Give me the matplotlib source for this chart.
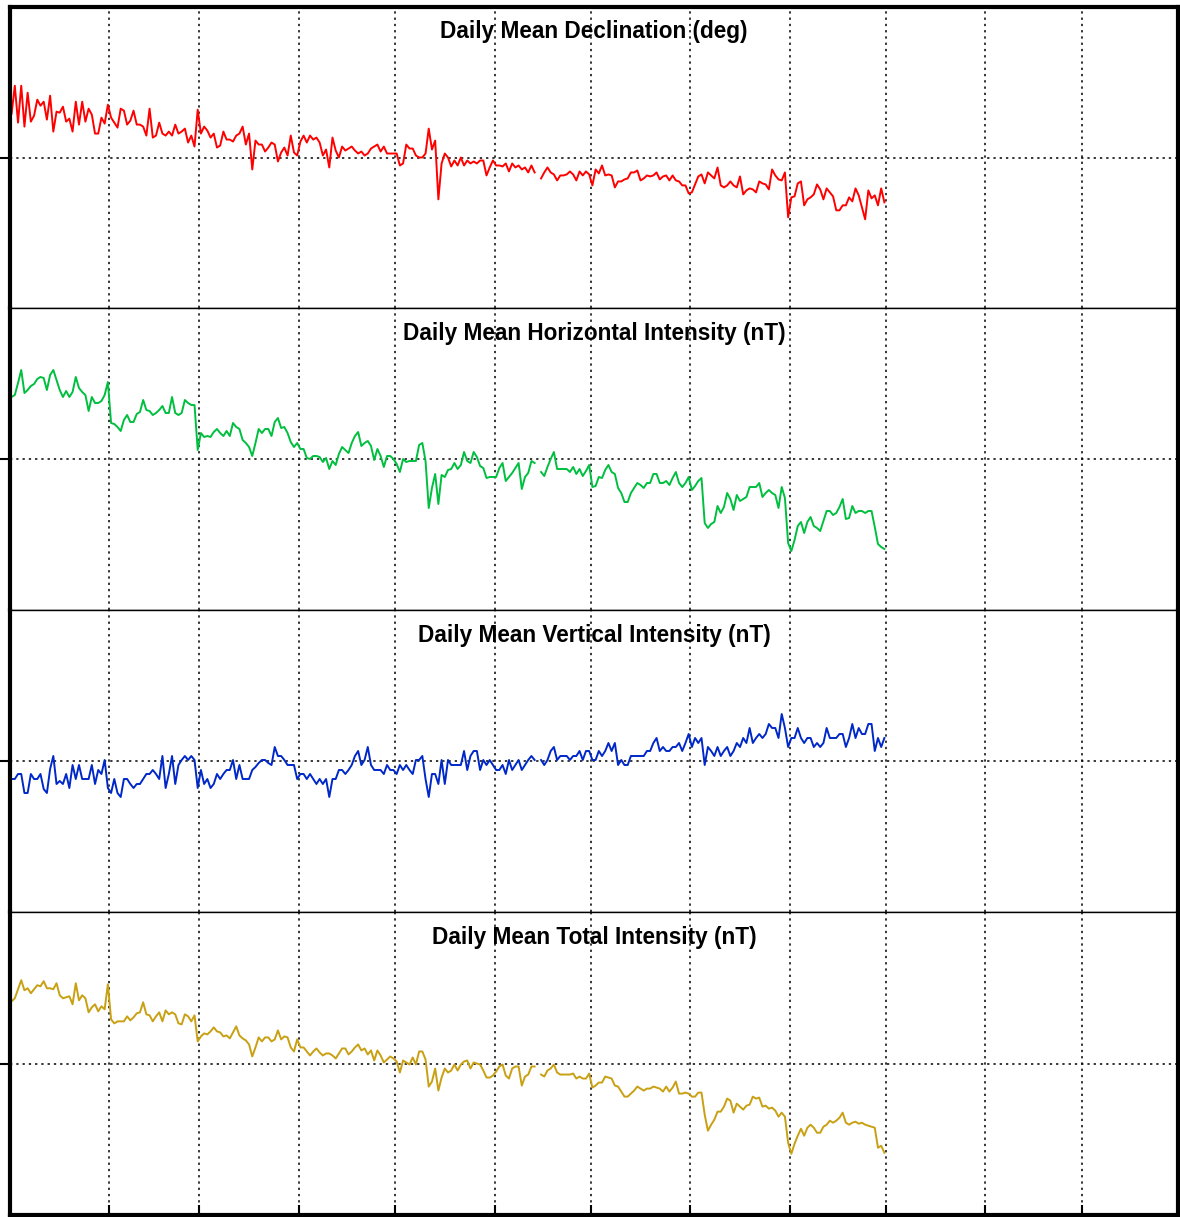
import matplotlib
matplotlib.use("Agg")
import matplotlib.pyplot as plt
import matplotlib.dates as mdates
from matplotlib import font_manager as fm
import numpy as np
import pandas as pd

# ── Daily means, 1 Jan – 30 Sep (anomaly about panel centre, day 165 missing) ──
nan = np.nan

declination = [
    44, 72, 35, 72, 31, 65, 36, 42, 58, 52,
    56, 38, 62, 26, 46, 45, 51, 36, 39, 26,
    56, 33, 56, 36, 49, 43, 24, 24, 40, 34,
    53, 40, 35, 30, 49, 47, 33, 37, 47, 33,
    33, 31, 22, 49, 20, 22, 35, 24, 22, 26,
    22, 33, 24, 26, 29, 15, 22, 11, 48, 24,
    31, 27, 20, 24, 10, 12, 26, 18, 18, 16,
    22, 24, 31, 13, 24, -12, 17, 13, 13, 6,
    10, 15, 13, -4, 5, 10, 2, 22, 5, 2,
    16, 22, 15, 22,
    18, 20, 15, 2, 8, -10, 20, 7, 0, 11,
    7, 9, 11, 7, 4, 6, 2, 4, 9, 11,
    13, 6, 11, 4, 4, 4, 4, -8, -6, 13,
    9, 9, 2, 0, 0, 4, 29, 8, 17, -42,
    -6, 4, 0, -9, -3, -8, 0, -8, -3, -6,
    -4, -6, -3, -3, -18, -10, -3, -8, -8, -9,
    -6, -14, -6, -10, -8, -12, -10, -15, -8, -15,
    nan, -21, -15, -10, -15, -17, -23, -18, -18, -17,
    -14, -17, -23, -14, -18, -14, -17, -28, -12, -16,
    -8, -18, -17, -18, -30, -24, -24, -22, -21, -15,
    -15, -13, -23, -21, -18, -19, -18, -15, -22, -19,
    -18, -23, -18, -23, -24, -28, -28, -36, -35, -27,
    -19, -17, -26, -15, -18, -21, -10, -28, -30, -28,
    -24, -28, -30, -19, -37, -33, -31, -32, -35, -24,
    -26, -27, -32, -12, -18, -22, -23, -15, -60, -40,
    -39, -26, -24, -48, -42, -40, -37, -27, -32, -42,
    -31, -35, -39, -53, -53, -48, -48, -40, -44, -31,
    -38, -50, -62, -33, -41, -38, -48, -31, -45,
]

horizontal = [
    62, 64, 76, 89, 66, 69, 73, 75, 80, 82,
    81, 69, 84, 89, 79, 69, 62, 68, 62, 67,
    82, 71, 67, 64, 48, 62, 56, 56, 58, 64,
    77, 36, 35, 32, 28, 39, 44, 37, 37, 45,
    47, 59, 49, 48, 44, 46, 49, 53, 46, 46,
    62, 46, 44, 46, 59, 56, 54, 54, 9, 26,
    22, 23, 22, 27, 30, 26, 23, 28, 23, 36,
    32, 30, 19, 16, 12, 3, 16, 30, 26, 30,
    30, 23, 37, 41, 31, 32, 26, 17, 12, 16,
    10, 10, 1, 0,
    3, 3, 2, -3, 1, -10, -2, -6, 5, 12,
    9, 6, 16, 23, 27, 13, 16, 18, 13, -1,
    10, 3, -8, 3, 3, 0, -5, -13, 0, -3,
    -2, -2, -2, 14, 16, -2, -49, -29, -15, -45,
    -16, -18, -11, -10, -4, -10, -6, 7, -2, -4,
    7, 2, -7, -9, -19, -18, -18, -18, -9, -4,
    -22, -18, -14, -9, -4, -30, -18, -14, -2, -4,
    nan, -13, -17, -8, 0, 7, -10, -10, -10, -10,
    -13, -8, -15, -10, -17, -12, -6, -28, -27, -18,
    -19, -11, -6, -13, -15, -29, -34, -43, -43, -34,
    -29, -24, -26, -29, -24, -24, -15, -15, -24, -24,
    -22, -26, -19, -13, -24, -28, -24, -18, -31, -27,
    -22, -19, -64, -69, -65, -63, -47, -54, -48, -34,
    -40, -51, -36, -42, -40, -38, -28, -28, -28, -24,
    -38, -34, -31, -34, -36, -49, -28, -39, -84, -92,
    -81, -67, -63, -74, -63, -58, -67, -69, -72, -62,
    -52, -52, -56, -54, -48, -40, -60, -59, -47, -54,
    -52, -52, -54, -52, -52, -68, -85, -88, -90,
]

vertical = [
    -18, -18, -13, -13, -32, -32, -13, -18, -18, -13,
    -28, -32, -8, 5, -23, -20, -23, -13, -27, -4,
    -18, -4, -18, -18, -18, -4, -23, -9, -13, 1,
    -27, -32, -18, -32, -36, -18, -18, -23, -27, -23,
    -23, -18, -13, -13, -9, -13, -18, 5, -27, -13,
    5, -23, -4, 1, 5, 1, 5, 1, -27, -9,
    -23, -18, -27, -23, -13, -18, -13, -9, -9, 1,
    -18, -4, -18, -18, -18, -9, -6, -2, 1, 1,
    -2, -4, 14, 5, 5, 1, -4, -4, -4, -18,
    -13, -13, -18, -13,
    -18, -23, -18, -23, -18, -36, -18, -18, -9, -9,
    -13, -9, -4, 5, 10, -4, 1, 14, -4, -9,
    -9, -9, -13, -4, -9, -9, -13, -4, -9, -4,
    -9, -13, 1, 1, 5, -18, -36, -13, -13, -23,
    1, -23, 1, -4, -4, -4, -4, 10, -9, 5,
    10, 10, -9, 1, -4, 1, -4, -9, -9, -4,
    -13, 1, -9, -4, 1, -9, -4, 1, 5, 1,
    nan, 1, -4, 1, 10, 14, 1, 5, 5, 5,
    1, 5, 5, 10, 1, 10, 10, 1, 1, 10,
    5, 10, 18, 10, 18, -4, 1, -4, -4, 5,
    5, 5, 5, 5, 10, 10, 18, 23, 10, 14,
    10, 10, 14, 14, 18, 10, 18, 27, 14, 23,
    18, 23, -4, 14, 10, 5, 14, 5, 10, 14,
    5, 10, 18, 14, 23, 18, 33, 18, 23, 27,
    23, 27, 37, 33, 33, 23, 47, 33, 14, 23,
    23, 33, 23, 18, 23, 23, 14, 18, 14, 18,
    33, 23, 23, 23, 27, 27, 14, 23, 37, 23,
    33, 27, 27, 37, 37, 10, 23, 14, 23,
]

total = [
    62, 65, 74, 83, 73, 75, 70, 74, 78, 77,
    82, 75, 75, 74, 80, 68, 65, 66, 67, 59,
    80, 63, 68, 65, 51, 56, 59, 52, 57, 54,
    79, 44, 40, 42, 42, 42, 47, 43, 46, 50,
    51, 61, 49, 48, 42, 47, 51, 42, 53, 49,
    51, 49, 40, 39, 49, 47, 42, 48, 22, 27,
    30, 29, 32, 36, 32, 31, 27, 28, 25, 31,
    37, 28, 25, 23, 19, 7, 16, 26, 22, 26,
    26, 22, 24, 33, 24, 27, 26, 16, 12, 24,
    16, 16, 12, 8,
    12, 15, 11, 8, 10, 10, 8, 5, 10, 15,
    15, 9, 12, 16, 19, 13, 15, 9, 13, 3,
    13, 8, 1, 4, 7, 5, 2, -9, 3, 1,
    -1, 6, -1, 12, 12, 4, -23, -18, -5, -27,
    -14, -5, -9, -7, -1, -7, -1, 2, 3, -5,
    1, 0, -1, -7, -14, -14, -12, -8, -3, -1,
    -12, -15, -5, -3, -3, -22, -13, -11, -3, -3,
    nan, -11, -13, -7, -5, -1, -9, -11, -11, -11,
    -11, -10, -15, -13, -15, -15, -10, -24, -22, -19,
    -19, -13, -14, -15, -22, -23, -28, -33, -33, -30,
    -27, -23, -25, -27, -25, -25, -23, -24, -25, -28,
    -23, -28, -24, -18, -30, -30, -29, -30, -33, -33,
    -29, -29, -51, -67, -61, -56, -48, -48, -43, -35,
    -37, -49, -40, -43, -46, -42, -41, -33, -35, -34,
    -43, -42, -45, -44, -47, -53, -49, -53, -79, -90,
    -80, -72, -65, -72, -64, -61, -64, -69, -69, -63,
    -61, -57, -59, -57, -54, -49, -59, -61, -59, -58,
    -60, -59, -61, -62, -63, -64, -84, -82, -89,
]

titles = [
    "Daily Mean Declination (deg)",
    "Daily Mean Horizontal Intensity (nT)",
    "Daily Mean Vertical Intensity (nT)",
    "Daily Mean Total Intensity (nT)",
]
colours = ["#ff0000", "#00bf3f", "#0028c8", "#c8a012"]
series = [declination, horizontal, vertical, total]

days = pd.date_range("2019-01-01 12:00", periods=len(declination), freq="D")
HALF_RANGE = 151

# pick the regular-width Liberation Sans Bold face (not the Narrow one)
title_font = None
for f in fm.fontManager.ttflist:
    if f.name == "Liberation Sans" and f.weight in (700, "bold") and f.style == "normal":
        title_font = fm.FontProperties(fname=f.fname, size=16.3)
        break
if title_font is None:
    title_font = fm.FontProperties(family="DejaVu Sans", weight="bold", size=15)

# ── Figure ───────────────────────────────────────────────────────────────────
fig = plt.figure(figsize=(11.8, 12.17), dpi=100)

W, H = 1180, 1217
left, right = 10, 1178
edges = [7, 308, 610, 912, 1215]

for i, (vals, title, col) in enumerate(zip(series, titles, colours)):
    top, bot = edges[i], edges[i + 1]
    ax = fig.add_axes([left / W, 1 - bot / H, (right - left) / W, (bot - top) / H])

    ax.plot(days, vals, color=col, lw=1.4)

    ax.set_xlim(pd.Timestamp("2019-01-01"), pd.Timestamp("2019-12-31"))
    ax.set_ylim(-HALF_RANGE, HALF_RANGE)
    ax.xaxis.set_major_locator(mdates.MonthLocator(bymonth=range(2, 13)))
    ax.set_yticks([0])
    ax.tick_params(labelleft=False, labelbottom=False)
    ax.tick_params(axis="y", direction="out", length=7, width=1.5)
    ax.tick_params(axis="x", direction="in", length=7 if i == 3 else 0, width=1.5)
    ax.grid(True, color="black", linestyle=(0, (1.5, 2.6)), linewidth=1.1)

    for s in ax.spines.values():
        s.set_linewidth(1.0)
    ax.spines["left"].set_linewidth(3)
    ax.spines["right"].set_linewidth(3)
    if i == 0:
        ax.spines["top"].set_linewidth(3)
    if i == 3:
        ax.spines["bottom"].set_linewidth(3)

    ax.text(0.5, 0.917, title, transform=ax.transAxes, ha="center", va="center",
            fontproperties=title_font)

fig.savefig("out.png", dpi=100)
